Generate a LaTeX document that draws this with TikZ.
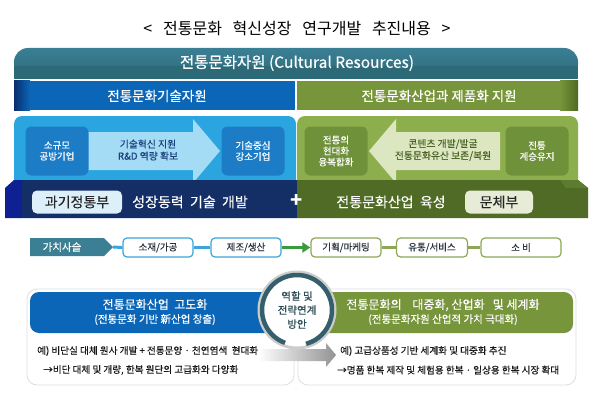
\documentclass[tikz,border=0pt]{standalone}
\usepackage{fontspec}
\setmainfont{Noto Sans CJK KR}
\newfontfamily\medfont[FakeBold=0.35]{Noto Sans CJK KR}
\usetikzlibrary{shapes.geometric,arrows.meta,shadings}
\definecolor{teal1}{HTML}{2C6A78}
\definecolor{teal2}{HTML}{3B7F95}
\definecolor{blue1}{HTML}{0B66B8}
\definecolor{blue0}{HTML}{0A2E6E}
\definecolor{lblue}{HTML}{2AA5DF}
\definecolor{boxblue}{HTML}{1C7DC6}
\definecolor{arrblue}{HTML}{A4DBF5}
\definecolor{navy}{HTML}{142E66}
\definecolor{green1}{HTML}{77953A}
\definecolor{green0}{HTML}{4E6A22}
\definecolor{lgreen}{HTML}{8CAE4C}
\definecolor{boxgreen}{HTML}{6F913A}
\definecolor{arrgreen}{HTML}{DCE7C2}
\definecolor{dgreen}{HTML}{4F6B25}
\definecolor{vcblue}{HTML}{3DA4DA}
\definecolor{vcgreen}{HTML}{8EA656}
\definecolor{garrow}{HTML}{3A9A3E}
\definecolor{ring}{HTML}{355F6B}
\definecolor{txtblue}{HTML}{1A3F7A}
\definecolor{txtgreen}{HTML}{4B6424}
\definecolor{paleblue}{HTML}{DDEFF9}
\definecolor{palegreen}{HTML}{E7ECD7}
\definecolor{vctext}{HTML}{2A3440}
\begin{document}
\begin{tikzpicture}[x=1pt,y=-1pt,
  every node/.style={inner sep=0pt, align=center},
  wtxt/.style={text=white},
  innerbox/.style={rounded corners=6pt, minimum width=63pt, minimum height=49pt, font=\medfont\fontsize{9.5}{11}\selectfont, text=white},
  minbox/.style={rounded corners=5pt, fill=paleblue, minimum width=90pt, minimum height=23pt, font=\medfont\fontsize{14}{15}\selectfont, text=black!85},
  vcbox/.style={draw, line width=1.2pt, rounded corners=4pt, fill=white, minimum height=19pt, font=\medfont\fontsize{9.5}{10}\selectfont, text=vctext},
  vcline/.style={line width=3pt},
  outer/.style={draw=cyan!15!gray!30, line width=0.8pt, rounded corners=10pt},
  exline/.style={font=\medfont\fontsize{9.6}{11}\selectfont, anchor=west, text=black!90}
]
\useasboundingbox (0,0) rectangle (593,409);
\fill[white] (0,0) rectangle (593,409);

% title
\node (title) at (297,28) {\fontsize{16}{18}\selectfont <\ \ \ 전통문화\ \ \ 혁신성장\ \ \ 연구개발\ \ \ 추진내용\ \ \ >};

% top banner
\shade[top color=teal2, bottom color=teal1, rounded corners=14pt] (14,79) -- (14,48) -- (578,48) -- (578,79) -- cycle;
\fill[teal1] (14,66) rectangle (578,79);
\node[wtxt, font=\medfont\fontsize{15.5}{17}\selectfont] (res) at (297,63) {전통문화자원 (Cultural Resources)};

% second row
\fill[blue1] (30,81) rectangle (295,110);
\shade[left color=blue0, right color=blue1] (14,81) rectangle (30,110);
\node[wtxt, font=\medfont\fontsize{13.5}{15}\selectfont] (tech) at (157,96) {전통문화기술자원};
\fill[green1] (297,81) rectangle (560,110);
\shade[left color=green1, right color=green0] (560,81) rectangle (578,110);
\node[wtxt, font=\medfont\fontsize{13.5}{15}\selectfont] (ind) at (439,96) {전통문화산업과 제품화 지원};

% left panel
\fill[lblue, rounded corners=8pt] (14,190) -- (14,116) -- (296,116) -- (296,190) -- cycle;
\fill[arrblue] (88,132) -- (193,132) -- (193,119) -- (220,151) -- (193,183) -- (193,170) -- (88,170) -- cycle;
\node[innerbox, fill=boxblue] (small) at (57,151) {소규모\\공방기업};
\node[innerbox, fill=boxblue] (strong) at (253,151) {기술중심\\강소기업};
\node[text=txtblue, font=\medfont\fontsize{9.8}{12}\selectfont] (rnd) at (148,150) {기술혁신 지원\\R\&D 역량 확보};

% right panel
\fill[lgreen, rounded corners=8pt] (297,190) -- (297,116) -- (578,116) -- (578,190) -- cycle;
\fill[arrgreen] (500,132) -- (396,132) -- (396,119) -- (369,151) -- (396,183) -- (396,170) -- (500,170) -- cycle;
\node[innerbox, fill=boxgreen] (modern) at (336,151) {전통의\\현대화\\융복합화};
\node[innerbox, fill=boxgreen] (keep) at (537,151) {전통\\계승유지};
\node[text=txtgreen, font=\medfont\fontsize{9.8}{12}\selectfont] (cont) at (443,150) {콘텐츠 개발/발굴\\전통문화유산 보존/복원};

% bottom bars
\shade[left color=navy!70!blue, right color=navy] (14,180) -- (5,188) -- (5,218) -- (297,218) -- (297,180) -- cycle;
\fill[navy] (22,180) rectangle (297,218);
\fill[dgreen] (297,180) -- (578,180) -- (588,188) -- (588,218) -- (297,218) -- cycle;
\fill[dgreen!75!lgreen] (560,180) -- (578,180) -- (588,188) -- (566,188) -- cycle;
\node[minbox] (msit) at (77,202) {과기정통부};
\node[wtxt, font=\medfont\fontsize{14}{15}\selectfont] (grow) at (190,202) {성장동력\ \ 기술\ \ 개발};
\node[wtxt, font=\bfseries\fontsize{20}{20}\selectfont] (plus) at (297,201) {+};
\node[wtxt, font=\medfont\fontsize{14}{15}\selectfont] (foster) at (391,202) {전통문화산업\ \ 육성};
\node[minbox, fill=palegreen, minimum width=68pt] (mcst) at (499,202) {문체부};

% value chain
\fill[teal2] (30,238) -- (104,238) -- (113,247) -- (104,256) -- (30,256) -- cycle;
\node[wtxt, font=\medfont\fontsize{10.5}{12}\selectfont] (vc) at (62,247) {가치사슬};
\node[vcbox, draw=vcblue, minimum width=70pt] (v1) at (158,247.5) {소재/가공};
\node[vcbox, draw=vcblue, minimum width=70pt] (v2) at (246,247.5) {제조/생산};
\node[vcbox, draw=vcgreen, minimum width=70pt] (v3) at (346,247.5) {기획/마케팅};
\node[vcbox, draw=vcgreen, minimum width=71pt] (v4) at (432,247.5) {유통/서비스};
\node[vcbox, draw=vcgreen, minimum width=80pt] (v5) at (521,247.5) {소 비};
\coordinate (vcend) at (113,247);
\draw[vcline, vcblue] (vcend) -- (v1.west);
\draw[vcline, vcblue] (v1.east) -- (v2.west);
\draw[line width=3.5pt, garrow, -{Triangle[length=8pt,width=10pt]}] (v2.east) -- (v3.west);
\draw[vcline, vcgreen] (v3.east) -- (v4.west);
\draw[vcline, vcgreen] (v4.east) -- (v5.west);

% bottom section
\draw[outer] (27,289) rectangle (294,385);
\draw[outer] (298,289) rectangle (576,385);
\fill[blue1, rounded corners=9pt] (30,292) rectangle (292,333);
\fill[green1, rounded corners=9pt] (300,292) rectangle (573,333);
\node[wtxt, font=\medfont\fontsize{12}{14}\selectfont] (adv) at (155,312) {전통문화산업\ \ 고도화\\{\fontsize{10.5}{12}\selectfont (전통문화\ 기반\ 新산업\ 창출)}};
\node[wtxt, font=\medfont\fontsize{12}{14}\selectfont] (pop) at (443,312) {전통문화의\ \ \ \ 대중화,\ 산업화\ \ \ 및\ 세계화\\{\fontsize{10.5}{12}\selectfont (전통문화자원\ 산업적\ 가치\ 극대화)}};

% gray arrow
\shade[left color=white, right color=gray!85] (258,349) -- (326,349) -- (326,343) -- (336,355) -- (326,367) -- (326,361) -- (258,361) -- cycle;

\node[exline] (ex1) at (37,351) {예) 비단실 대체 원사 개발 + 전통문양 · 천연염색\ \ 현대화};
\node[exline] (ex2) at (43,370) {→비단 대체 및 개량, 한복 원단의 고급화와 다양화};
\node[exline] (ex3) at (340,351) {예) 고급상품성 기반 세계화 및 대중화 추진};
\node[exline] (ex4) at (337,370) {→명품 한복 제작 및 체험용 한복 · 일상용 한복 시장 확대};

% circle
\node[circle, fill=white, draw=gray!40, line width=3pt, minimum size=76pt] (circ) at (297,310) {};
\draw[ring, line width=4.5pt] (297,310) ++(75:35) arc[start angle=75, end angle=-250, radius=35];
\node[font=\medfont\fontsize{10.5}{14}\selectfont, text=ring!80!black] (role) at (297,310) {역할 및\\전략연계\\방안};
\end{tikzpicture}
\end{document}
